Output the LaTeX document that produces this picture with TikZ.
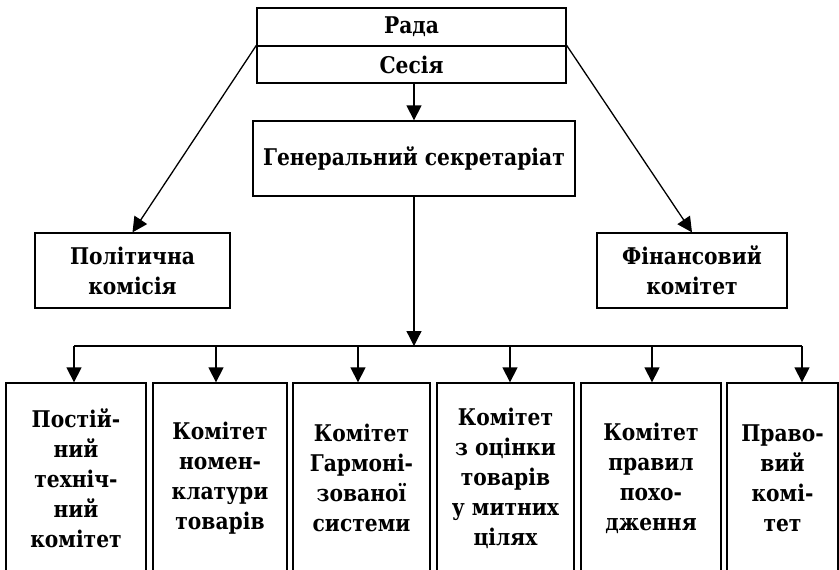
\documentclass[tikz,border=0pt]{standalone}
\usepackage{fontspec}
\setmainfont{DejaVu Serif}[FakeStretch=0.88]
\usetikzlibrary{arrows.meta}
\begin{document}
\begin{tikzpicture}[x=1pt,y=-1pt,
  every node/.style={font=\fontsize{23}{30}\selectfont\bfseries},
  box/.style={draw,line width=1.3pt,inner sep=0pt,align=center},
  conn/.style={line width=1.3pt},
  arr/.style={line width=1.3pt,-{Triangle[width=15pt,length=15pt]}}]
\useasboundingbox (0,0) rectangle (839,570);
\clip (0,0) rectangle (839,570);
\node[box,minimum width=309pt,minimum height=38pt] (rada) at (411.5,27) {Рада};
\node[box,minimum width=309pt,minimum height=37pt] (sesia) at (411.5,64.5) {Сесія};
\node[box,minimum width=322pt,minimum height=75pt] (gen) at (414,158.5) {Генеральний секретаріат};
\node[box,minimum width=195pt,minimum height=75pt] (pol) at (132.5,270.5) {Політична\\комісія};
\node[box,minimum width=190pt,minimum height=75pt] (fin) at (692,270.5) {Фінансовий\\комітет};
\node[box,minimum width=140pt,minimum height=190pt] (b1) at (76,478) {Постій-\\ний\\техніч-\\ний\\комітет};
\node[box,minimum width=134pt,minimum height=190pt] (b2) at (220,478) {Комітет\\номен-\\клатури\\товарів};
\node[box,minimum width=137pt,minimum height=190pt] (b3) at (361.5,478) {Комітет\\Гармоні-\\зованої\\системи};
\node[box,minimum width=137pt,minimum height=190pt] (b4) at (505.5,478) {Комітет\\з оцінки\\товарів\\у митних\\цілях};
\node[box,minimum width=140pt,minimum height=190pt] (b5) at (651,478) {Комітет\\правил\\похо-\\дження};
\node[box,minimum width=111pt,minimum height=190pt] (b6) at (782.5,478) {Право-\\вий\\комі-\\тет};
\coordinate (bus) at (414,346);
\coordinate (a1) at (74,346);
\coordinate (a2) at (216,346);
\coordinate (a3) at (358,346);
\coordinate (a4) at (510,346);
\coordinate (a5) at (652,346);
\coordinate (a6) at (802,346);
\draw[arr] (sesia.south -| gen.north) -- (gen.north);
\draw[arr] (sesia.north west) -- (pol.north);
\draw[arr] (sesia.north east) -- (fin.north);
\draw[arr] (gen.south) -- (bus);
\draw[conn] (a1) -- (a6);
\draw[arr] (a1) -- (a1 |- b1.north);
\draw[arr] (a2) -- (a2 |- b2.north);
\draw[arr] (a3) -- (a3 |- b3.north);
\draw[arr] (a4) -- (a4 |- b4.north);
\draw[arr] (a5) -- (a5 |- b5.north);
\draw[arr] (a6) -- (a6 |- b6.north);
\end{tikzpicture}
\end{document}
